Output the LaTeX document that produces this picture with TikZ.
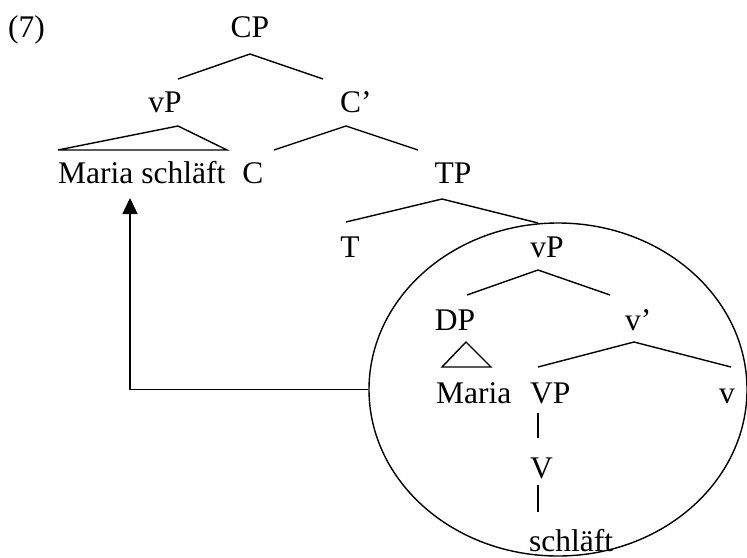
\documentclass[tikz,border=0pt]{standalone}
\usepackage{fontspec}
\setmainfont{Liberation Serif}
\usetikzlibrary{arrows.meta,shapes.geometric}
\begin{document}
\begin{tikzpicture}[x=1pt,y=-1pt,
  lbl/.style={anchor=base,inner sep=0pt,font=\fontsize{31.5}{38}\selectfont},
  lblw/.style={lbl,anchor=base west},
  branch/.style={line width=1.4pt,line join=miter},
  ring/.style={line width=1.4pt},
  move/.style={line width=1.4pt,-{Triangle[length=16pt,width=15pt]}}]
\useasboundingbox (0,0) rectangle (747,557);
% labels
\node[lblw] (ex) at (8,37) {(7)};
\node[lbl] (CP) at (250,37) {CP};
\node[lbl] (vPa) at (165,112) {vP};
\node[lblw] (Cbar) at (340,112) {C’};
\node[lblw] (MS) at (58,183) {Maria schläft};
\node[lbl] (C) at (253,183) {C};
\node[lbl] (TP) at (453,183) {TP};
\node[lbl] (T) at (350,257) {T};
\node[lbl] (vPb) at (547,257) {vP};
\node[lbl] (DP) at (455,330) {DP};
\node[lblw] (vbar) at (625,330) {v’};
\node[lblw] (Maria) at (436,403) {Maria};
\node[lblw] (VP) at (530,403) {VP};
\node[lbl] (v) at (727,403) {v};
\node[lblw] (V) at (530,478) {V};
\node[lblw] (schl) at (529,551) {schläft};
% branch points
\coordinate (cpA) at (250,54);  \coordinate (cpL) at (178,79);  \coordinate (cpR) at (323,79);
\coordinate (vpA) at (178,126); \coordinate (vpL) at (58,150);  \coordinate (vpR) at (227,150);
\coordinate (cbA) at (346,126); \coordinate (cbL) at (274,150); \coordinate (cbR) at (418,150);
\coordinate (tpA) at (442,199); \coordinate (tpL) at (346,222); \coordinate (tpR) at (538,223);
\coordinate (vbA) at (538,270); \coordinate (vbL) at (467,295); \coordinate (vbR) at (610,295);
\coordinate (dpA) at (466,342); \coordinate (dpL) at (442,367); \coordinate (dpR) at (491,367);
\coordinate (vvA) at (634,342); \coordinate (vvL) at (538,367); \coordinate (vvR) at (731,367);
\coordinate (VPb) at (538,413); \coordinate (Vt) at (538,438);
\coordinate (Vb) at (538,485);  \coordinate (St) at (538,512);
% branches
\draw[branch] (cpL) -- (cpA) -- (cpR);
\draw[branch] (vpL) -- (vpA) -- (vpR) -- cycle;
\draw[branch] (cbL) -- (cbA) -- (cbR);
\draw[branch] (tpL) -- (tpA) -- (tpR);
\draw[branch] (vbL) -- (vbA) -- (vbR);
\draw[branch] (dpL) -- (dpA) -- (dpR) -- cycle;
\draw[branch] (vvL) -- (vvA) -- (vvR);
\draw[branch] (VPb) -- (Vt);
\draw[branch] (Vb) -- (St);
% circle round the lower vP
\node[ring,draw,ellipse,minimum width=378pt,minimum height=333pt,inner sep=0pt] (ring) at (558,389.5) {};
% movement arrow
\coordinate (tip) at (130,198);
\draw[move] (ring.west) -| (tip);
\end{tikzpicture}
\end{document}
